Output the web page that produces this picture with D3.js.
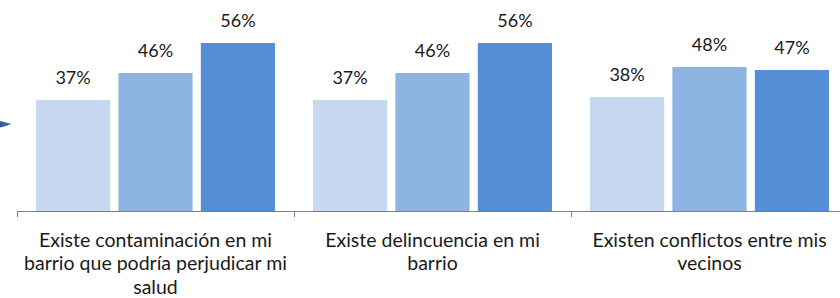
<!DOCTYPE html>
<html>
<head>
<meta charset="utf-8">
<script src="https://cdn.jsdelivr.net/npm/d3@7"></script>
<style>
  html, body { margin: 0; padding: 0; background: #fff; }
  svg { display: block; font-family: Lato, "Open Sans", sans-serif; }
</style>
</head>
<body>
<div id="chart"></div>
<script>
// data
const categories = ["contaminacion", "delincuencia", "conflictos"];
const categoryLabels = [
  ["Existe contaminación en mi", "barrio que podría perjudicar mi", "salud"],
  ["Existe delincuencia en mi", "barrio"],
  ["Existen conflictos entre mis", "vecinos"]
];
const seriesNames = ["s1", "s2", "s3"];
const series1 = [37, 37, 38];
const series2 = [46, 46, 48];
const series3 = [56, 56, 47];
const seriesValues = [series1, series2, series3];

const width = 840, height = 298;
const margin = { top: 1, left: 17, bottom: 87 };
const baseY = height - margin.bottom; // 211

const svg = d3.select("#chart").append("svg")
  .attr("width", width)
  .attr("height", height);

// band scale for categories (last band runs past right edge)
const x = d3.scaleBand()
  .domain(categories)
  .range([margin.left, margin.left + 277 * 3])
  .paddingInner(0)
  .paddingOuter(0);

const xInner = d3.scaleBand()
  .domain(seriesNames)
  .range([19, 258])
  .paddingInner(0.1);

const y = d3.scaleLinear()
  .domain([0, 70])
  .range([baseY, baseY - 210]);

const color = d3.scaleOrdinal()
  .domain(seriesNames)
  .range(["#c6d9f1", "#8eb4e3", "#558ed5"]);

// little pointer on the left edge
const grad = svg.append("defs").append("linearGradient")
  .attr("id", "ptr").attr("x1", 0).attr("x2", 1);
grad.append("stop").attr("offset", 0).attr("stop-color", "#2e5a94");
grad.append("stop").attr("offset", 0.7).attr("stop-color", "#3f6faa");
grad.append("stop").attr("offset", 1).attr("stop-color", "#c4d4ea");
svg.append("path")
  .attr("d", "M0,121 L6,122.5 L12,124 L6,126 L0,127.5 Z")
  .attr("fill", "url(#ptr)");

// bars
const groups = svg.selectAll("g.cat")
  .data(categories)
  .join("g")
  .attr("class", "cat")
  .attr("transform", d => `translate(${x(d)},0)`);

groups.each(function(cat, ci) {
  const g = d3.select(this);
  const vals = seriesNames.map((s, si) => ({ s, v: seriesValues[si][ci] }));
  g.selectAll("rect")
    .data(vals)
    .join("rect")
    .attr("x", d => xInner(d.s))
    .attr("y", d => y(d.v))
    .attr("width", xInner.bandwidth())
    .attr("height", d => baseY - y(d.v))
    .attr("fill", d => color(d.s));

  g.selectAll("text.val")
    .data(vals)
    .join("text")
    .attr("class", "val")
    .attr("x", d => xInner(d.s) + xInner.bandwidth() / 2)
    .attr("y", d => y(d.v) - 16)
    .attr("text-anchor", "middle")
    .attr("font-size", 18)
    .attr("fill", "#1a1a1a")
    .text(d => d.v + "%");
});

// axis
const axis = svg.append("g")
  .attr("transform", `translate(0,${baseY})`)
  .call(d3.axisBottom(x).tickSize(0).tickFormat(""));
axis.select(".domain").attr("stroke", "#7f7f7f").attr("d", `M${margin.left},0.5H${width}`);

svg.append("g").selectAll("line")
  .data(categories)
  .join("line")
  .attr("x1", d => Math.round(x(d)) + 0.5)
  .attr("x2", d => Math.round(x(d)) + 0.5)
  .attr("y1", baseY)
  .attr("y2", baseY + 6)
  .attr("stroke", "#7f7f7f");

// category labels
svg.append("g").selectAll("text")
  .data(categories)
  .join("text")
  .attr("text-anchor", "middle")
  .attr("font-size", 19.5)
  .attr("fill", "#1a1a1a")
  .each(function(d, i) {
    const t = d3.select(this);
    categoryLabels[i].forEach((line, li) => {
      t.append("tspan")
        .attr("x", x(d) + x.bandwidth() / 2)
        .attr("y", 246.5 + li * 23.5)
        .text(line);
    });
  });
</script>
</body>
</html>
